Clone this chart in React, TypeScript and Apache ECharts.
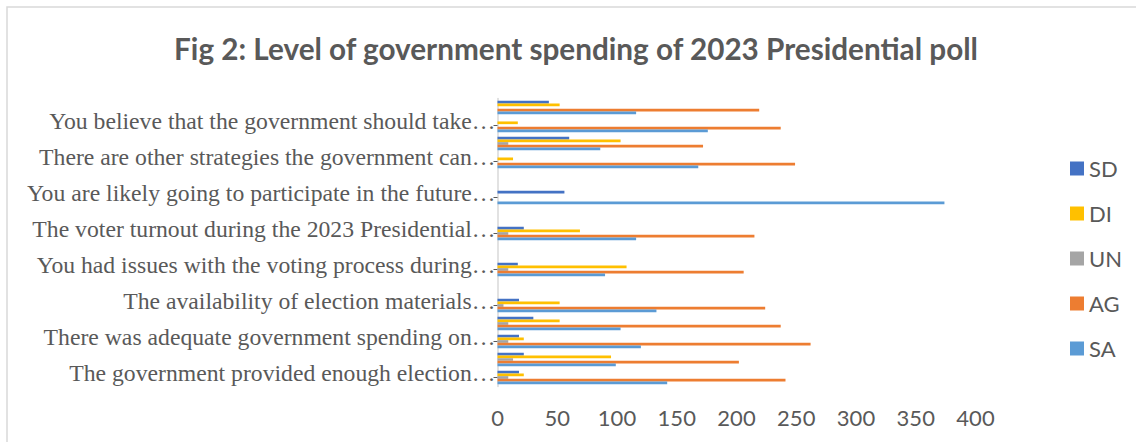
import React, { useEffect, useRef } from "react";
import * as echarts from "echarts";

// Categories from bottom (index 0) to top; hidden rows keep blank/unique names
const categories = [
  "The government provided enough election…",
  " ",
  "There was adequate government spending on…",
  "  ",
  "The availability of election materials…",
  "   ",
  "You had issues with the voting process during…",
  "    ",
  "The voter turnout during the 2023 Presidential…",
  "     ",
  "You are likely going to participate in the future…",
  "      ",
  "There are other strategies the government can…",
  "       ",
  "You believe that the government should take…",
  "        ",
];

const seriesNames = ["SD", "DI", "UN", "AG", "SA"];
const seriesColors = ["#4472C4", "#FFC000", "#A5A5A5", "#ED7D31", "#5B9BD5"];

const SD = [18, 22, 18, 30, 18, 0, 17, 0, 22, 0, 56, 0, 0, 60, 0, 43];
const DI = [22, 95, 22, 52, 52, 0, 108, 0, 69, 0, 0, 0, 13, 103, 17, 52];
const UN = [9, 13, 9, 9, 5, 0, 9, 0, 9, 0, 0, 0, 0, 9, 0, 0];
const AG = [241, 202, 262, 237, 224, 0, 206, 0, 215, 0, 0, 0, 249, 172, 237, 219];
const SA = [142, 99, 120, 103, 133, 0, 90, 0, 116, 0, 374, 0, 168, 86, 176, 116];

const xTicks = { min: 0, max: 400, interval: 50 };

const titleText = "Fig 2: Level of government spending of 2023 Presidential poll";

const SANS = "Lato, 'Liberation Sans', sans-serif";
const SERIF = "'Liberation Serif', 'Times New Roman', serif";
const GRAY = "#595959";

export default function App() {
  const ref = useRef<HTMLDivElement>(null);

  useEffect(() => {
    if (!ref.current) return;
    const chart = echarts.init(ref.current, undefined, { renderer: "svg" });
    const values = [SD, DI, UN, AG, SA];
    chart.setOption({
      animation: false,
      backgroundColor: "#ffffff",
      graphic: [
        {
          type: "rect",
          silent: true,
          z: -10,
          shape: { x: 7, y: 7, width: 1300, height: 600 },
          style: { fill: "none", stroke: "#D9D9D9", lineWidth: 1.5 },
        },
        {
          type: "text",
          x: 576,
          y: 48,
          style: {
            text: titleText,
            fontFamily: SANS,
            fontWeight: "bold",
            fontSize: 29.7,
            fill: GRAY,
            align: "center",
            textAlign: "center",
            verticalAlign: "middle",
            textVerticalAlign: "middle",
          },
        },
      ],
      legend: {
        orient: "vertical",
        left: 1065,
        top: 152.5,
        itemWidth: 14,
        itemHeight: 14,
        itemGap: 23,
        icon: "rect",
        data: seriesNames,
        textStyle: { fontFamily: SANS, fontSize: 22, lineHeight: 21, color: GRAY },
      },
      grid: { left: 497.5, right: 160.5, top: 98.5, bottom: 55.5, containLabel: false },
      xAxis: {
        type: "value",
        min: xTicks.min,
        max: xTicks.max,
        interval: xTicks.interval,
        axisLine: { show: false },
        axisTick: { show: false },
        splitLine: { show: false },
        axisLabel: { fontFamily: SANS, fontSize: 22, color: GRAY, margin: 20 },
      },
      yAxis: {
        type: "category",
        data: categories,
        axisLine: { show: true, lineStyle: { color: "#D9D9D9", width: 1.5 } },
        axisTick: {
          show: true,
          alignWithLabel: true,
          interval: 1,
          length: 4,
          lineStyle: { color: GRAY },
        },
        axisLabel: {
          interval: 1,
          fontFamily: SERIF,
          fontSize: 23.7,
          color: GRAY,
          margin: 2,
          verticalAlign: "bottom",
          lineHeight: 9,
        },
      },
      series: seriesNames.map((name, i) => ({
        name,
        type: "bar",
        data: values[i],
        barGap: "0%",
        barCategoryGap: "25%",
        itemStyle: { color: seriesColors[i] },
      })),
    });
    return () => chart.dispose();
  }, []);

  return (
    <div
      ref={ref}
      style={{ position: "absolute", left: 0, top: 0, width: 1136, height: 442 }}
    />
  );
}
